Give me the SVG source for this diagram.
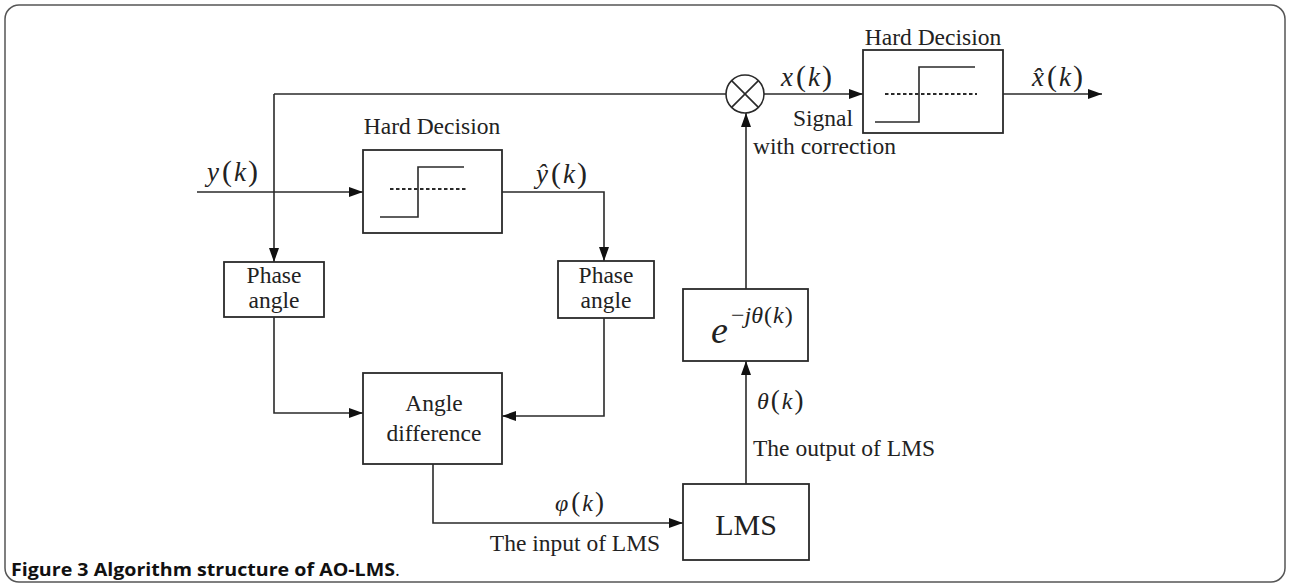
<svg xmlns="http://www.w3.org/2000/svg" width="1290" height="587" viewBox="0 0 1290 587">
<style>
.box{fill:#fff;stroke:#2a2a2a;stroke-width:1.8}
.ln{fill:none;stroke:#2a2a2a;stroke-width:1.6}
.dash{fill:none;stroke:#2a2a2a;stroke-width:2;stroke-dasharray:3.5 2.5}
.t{font-family:"Liberation Serif","Times New Roman",serif;font-size:23.5px;fill:#222}
.m{font-family:"Liberation Serif","Times New Roman",serif;font-size:27px;fill:#222}
.s{font-family:"Liberation Serif","Times New Roman",serif;font-size:24px;fill:#222}
.i{font-style:italic}
.p{font-size:30px}
.ps{font-size:27px}
.cap{font-family:"Open Sans","Liberation Sans",sans-serif;font-size:18.5px;fill:#111}
</style>
<defs>
<marker id="ah" markerUnits="userSpaceOnUse" markerWidth="14" markerHeight="10" refX="14" refY="5" orient="auto">
<path d="M0,0 L14,5 L0,10 Z" fill="#111"/>
</marker>
</defs>
<rect x="5" y="5" width="1280" height="577" rx="14" fill="#fff" stroke="#555" stroke-width="1.5"/>

<g id="connectors">
<path class="ln" d="M274,94 H726"/>
<path class="ln" d="M274,94 V262" marker-end="url(#ah)"/>
<path class="ln" d="M197,192 H363" marker-end="url(#ah)"/>
<path class="ln" d="M764,94 H863" marker-end="url(#ah)"/>
<path class="ln" d="M1003,94 H1102" marker-end="url(#ah)"/>
<path class="ln" d="M502,192 H604 V261" marker-end="url(#ah)"/>
<path class="ln" d="M274,317 V413 H363" marker-end="url(#ah)"/>
<path class="ln" d="M604,318 V416 H502" marker-end="url(#ah)"/>
<path class="ln" d="M433,464 V523 H683" marker-end="url(#ah)"/>
<path class="ln" d="M746,484 V361" marker-end="url(#ah)"/>
<path class="ln" d="M746,289 V113" marker-end="url(#ah)"/>
</g>

<g id="labels">
<text class="m" x="207" y="181"><tspan class="i">y</tspan><tspan class="p" dx="3">(</tspan><tspan class="i" dx="2">k</tspan><tspan class="p" dx="2">)</tspan></text>
<text class="m" x="536" y="183"><tspan class="i">ŷ</tspan><tspan class="p" dx="3">(</tspan><tspan class="i" dx="2">k</tspan><tspan class="p" dx="2">)</tspan></text>
<text class="m" x="781" y="86"><tspan class="i">x</tspan><tspan class="p" dx="3">(</tspan><tspan class="i" dx="2">k</tspan><tspan class="p" dx="2">)</tspan></text>
<text class="m" x="1032" y="86"><tspan class="i">x̂</tspan><tspan class="p" dx="3">(</tspan><tspan class="i" dx="2">k</tspan><tspan class="p" dx="2">)</tspan></text>
<text class="t" x="793" y="126">Signal</text>
<text class="t" x="753" y="154">with correction</text>
<text class="s" x="555" y="511"><tspan class="i">φ</tspan><tspan class="ps" dx="3">(</tspan><tspan class="i" dx="2">k</tspan><tspan class="ps" dx="2">)</tspan></text>
<text class="t" x="575" y="551" text-anchor="middle">The input of LMS</text>
<text class="s" x="757" y="409"><tspan class="i">θ</tspan><tspan class="ps" dx="2">(</tspan><tspan class="i" dx="2">k</tspan><tspan class="ps" dx="2">)</tspan></text>
<text class="t" x="753" y="456">The output of LMS</text>
</g>

<g id="hd1">
<text class="t" x="432" y="134" text-anchor="middle">Hard Decision</text>
<rect class="box" x="363" y="150" width="139" height="83"/>
<path class="ln" d="M380,217 H418 V167 H464"/>
<path class="dash" d="M390,189 H466"/>
</g>

<g id="hd2">
<text class="t" x="933" y="45" text-anchor="middle">Hard Decision</text>
<rect class="box" x="863" y="50" width="140" height="83"/>
<path class="ln" d="M875,122 H919 V67 H975"/>
<path class="dash" d="M885,94 H977"/>
</g>

<g id="mult">
<circle cx="745" cy="94" r="19" fill="#fff" stroke="#2a2a2a" stroke-width="1.6"/>
<path class="ln" d="M731.6,80.6 L758.4,107.4 M758.4,80.6 L731.6,107.4"/>
</g>

<g id="phase1">
<rect class="box" x="224" y="262" width="100" height="55"/>
<text class="t" x="274" y="283" text-anchor="middle">Phase</text>
<text class="t" x="274" y="308" text-anchor="middle">angle</text>
</g>

<g id="phase2">
<rect class="box" x="558" y="261" width="96" height="57"/>
<text class="t" x="606" y="283" text-anchor="middle">Phase</text>
<text class="t" x="606" y="308" text-anchor="middle">angle</text>
</g>

<g id="anglediff">
<rect class="box" x="363" y="373" width="139" height="91"/>
<text class="t" x="434" y="411" text-anchor="middle">Angle</text>
<text class="t" x="434" y="441" text-anchor="middle">difference</text>
</g>

<g id="lms">
<rect class="box" x="683" y="484" width="126" height="76"/>
<text class="t" x="746" y="535" text-anchor="middle" style="font-size:30px">LMS</text>
</g>

<g id="expbox">
<rect class="box" x="683" y="289" width="125" height="72"/>
<text class="m" x="711" y="343" style="font-size:38px"><tspan class="i">e</tspan></text>
<text class="s" x="731" y="323">−<tspan class="i">jθ</tspan><tspan dx="1">(</tspan><tspan class="i" dx="1">k</tspan><tspan dx="1">)</tspan></text>
</g>

<g id="caption">
<text class="cap" x="11" y="576" font-weight="bold" textLength="384" lengthAdjust="spacingAndGlyphs">Figure 3 Algorithm structure of AO-LMS</text>
<text class="cap" x="395" y="576">.</text>
</g>
</svg>
